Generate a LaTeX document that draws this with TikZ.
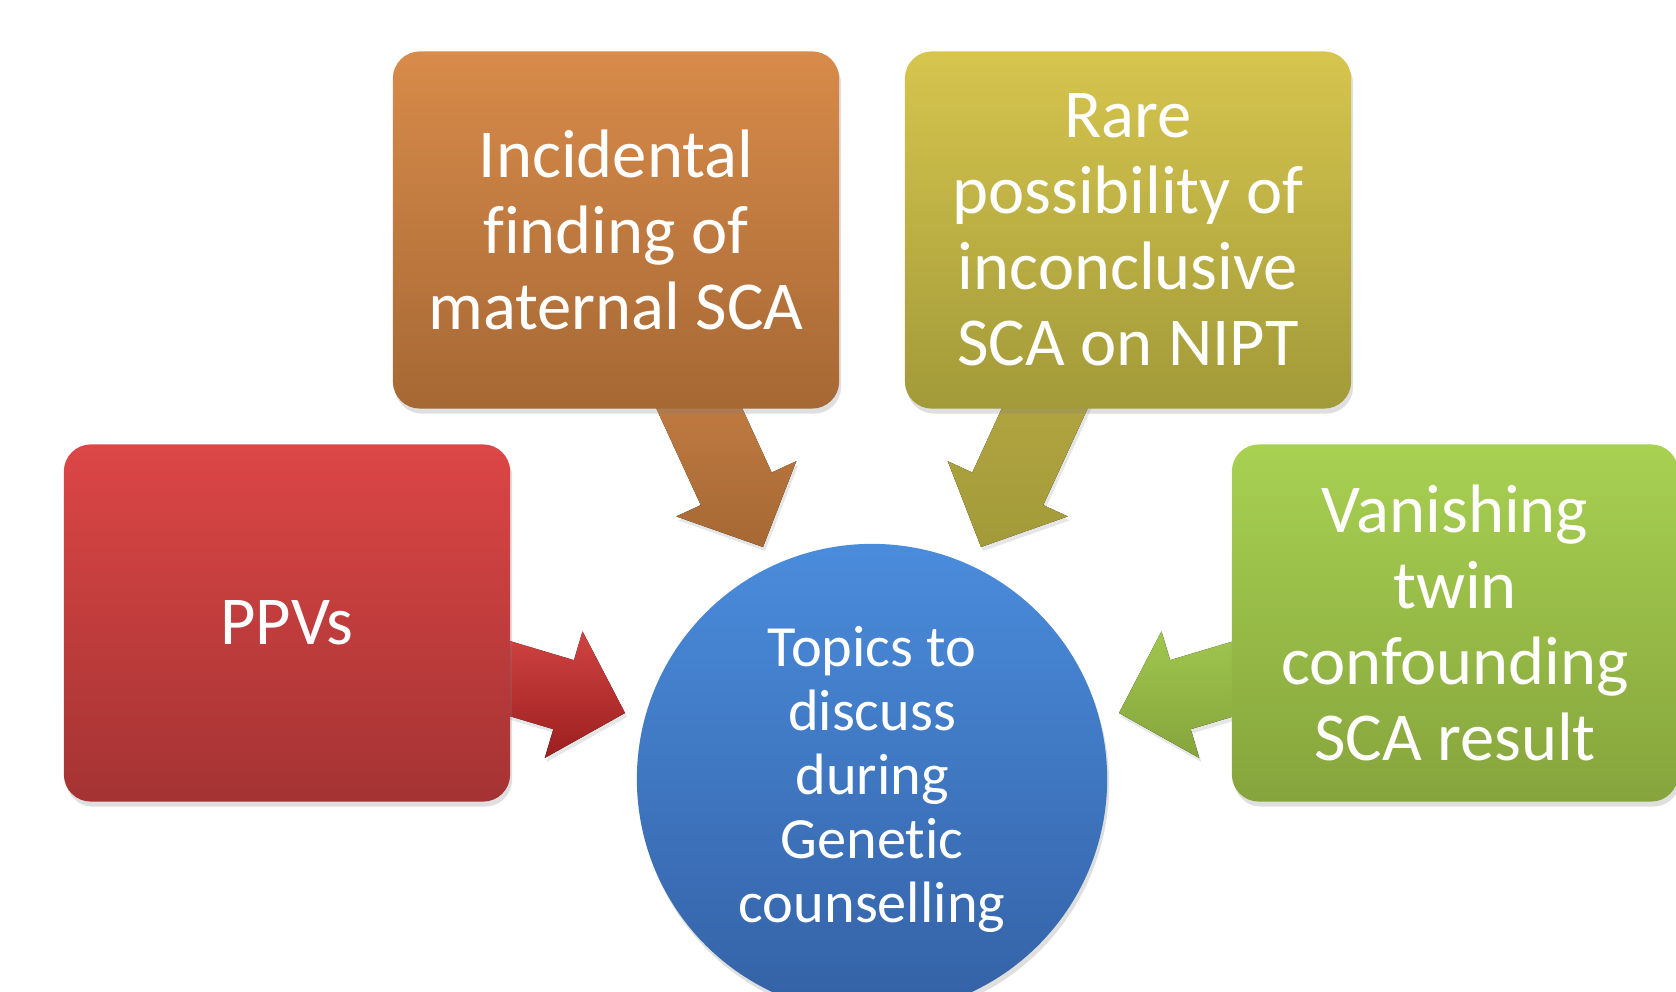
\documentclass[tikz,border=0pt]{standalone}
\usepackage{fontspec}
\setmainfont{Carlito}[Ligatures={CommonOff,ContextualOff,RareOff}]
\usetikzlibrary{
    calc,    % for the corners of the block arrows
    shadows  % for the soft shadow under boxes and arrows
}

% fat block arrow from a tail coordinate to a tip coordinate
% #1 tail, #2 tip, #3 half width of the shaft, #4 top colour, #5 bottom colour
\newcommand\fatarrow[5]{%
    \coordinate (head base) at ($(#2)!0.64cm!(#1)$);
    \fill [arrow body, top color=#4, bottom color=#5]
        ($(#1)!#3!90:(#2)$)
        -- ($(head base)!#3!90:(#2)$)
        -- ($(head base)!0.66cm!90:(#2)$)
        -- (#2)
        -- ($(head base)!0.66cm!-90:(#2)$)
        -- ($(head base)!#3!-90:(#2)$)
        -- ($(#1)!#3!-90:(#2)$)
        -- cycle;
}

\definecolor{incidentaltop}{HTML}{D88B4A}
\definecolor{incidentalbot}{HTML}{A66834}
\definecolor{raretop}{HTML}{D6C54E}
\definecolor{rarebot}{HTML}{A29A39}
\definecolor{ppvtop}{HTML}{DC4646}
\definecolor{ppvbot}{HTML}{A53333}
\definecolor{twintop}{HTML}{A8D152}
\definecolor{twinbot}{HTML}{86A43C}
\definecolor{topicstop}{HTML}{4A8CDC}
\definecolor{topicsbot}{HTML}{3461A5}

\begin{document}
\begin{tikzpicture}[
    x=0.01cm,y=-0.01cm,
    topic box/.style = {rectangle,rounded corners=0.27cm,
                        minimum width=4.46cm,minimum height=3.57cm,
                        align=center,text=white,
                        font=\fontsize{19.5}{21.6}\selectfont,
                        drop shadow={opacity=0.25,shadow xshift=0.02cm,shadow yshift=-0.05cm}},
    hub/.style        = {circle,minimum size=4.7cm,inner sep=0pt,
                        align=center,text=white,
                        font=\fontsize{16.6}{18.2}\selectfont,
                        drop shadow={opacity=0.25,shadow xshift=0.02cm,shadow yshift=-0.05cm}},
    arrow body/.style = {drop shadow={opacity=0.2,shadow xshift=0.02cm,shadow yshift=-0.04cm}}
]

\useasboundingbox (0,0) rectangle (1676,991);
\clip (0,0) rectangle (1676,991);

% ends of the four arrows

    \coordinate (incidental tail) at (683,373);
    \coordinate (incidental tip)  at (763,547);
    \coordinate (rare tail)       at (1061,373);
    \coordinate (rare tip)        at (981,547);
    \coordinate (ppv tail)        at (481,670);
    \coordinate (ppv tip)         at (625,713);
    \coordinate (twin tail)       at (1263,670);
    \coordinate (twin tip)        at (1119,713);

    \fatarrow{incidental tail}{incidental tip}{0.39cm}{incidentaltop!92!black}{incidentalbot}
    \fatarrow{rare tail}{rare tip}{0.39cm}{raretop!85!black}{rarebot}
    \fatarrow{ppv tail}{ppv tip}{0.36cm}{ppvtop!95!black}{ppvbot!110}
    \fatarrow{twin tail}{twin tip}{0.36cm}{twintop!95!black}{twinbot}

% boxes round the centre

    \node [topic box,top color=incidentaltop,bottom color=incidentalbot]
        (incidental) at (616,230)  {Incidental\\finding of\\maternal SCA};
    \node [topic box,top color=raretop,bottom color=rarebot]
        (rare)       at (1128,230) {Rare\\possibility of\\inconclusive\\SCA on NIPT};
    \node [topic box,top color=ppvtop,bottom color=ppvbot]
        (ppv)        at (287,623)  {PPVs};
    \node [topic box,top color=twintop,bottom color=twinbot]
        (twin)       at (1455,623) {Vanishing\\twin\\confounding\\SCA result};

% centre

    \node [hub,top color=topicstop,bottom color=topicsbot]
        (topics) at (872,779) {Topics to\\discuss\\during\\Genetic\\counselling};

\end{tikzpicture}
\end{document}
